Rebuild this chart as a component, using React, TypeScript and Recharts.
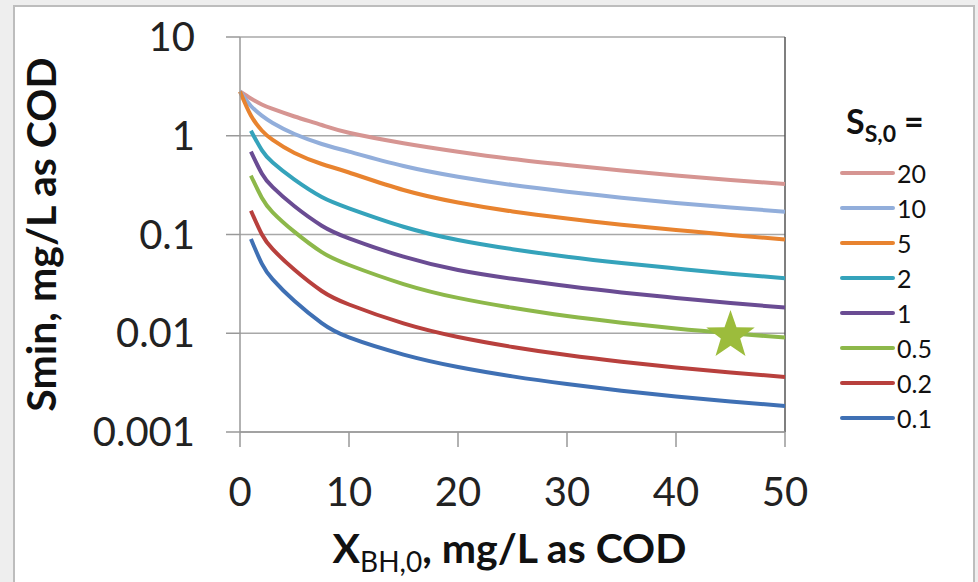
import React from 'react';
import {
  ComposedChart,
  Line,
  XAxis,
  YAxis,
  CartesianGrid,
  ReferenceLine,
  ReferenceDot,
} from 'recharts';

// X_BH,0 values (mg/L as COD)
const xValues = [0, 1, 2, 3, 5, 7.5, 10, 15, 20, 25, 30, 35, 40, 45, 50];

// Smin curves, one per S_S,0
const s20 = [2.806, 2.384, 2.073, 1.866, 1.566, 1.285, 1.074, 0.841, 0.69, 0.5815, 0.5057, 0.4446, 0.3958, 0.3563, 0.3246];
const s10 = [2.806, 2.001, 1.596, 1.346, 1.041, 0.825, 0.69, 0.494, 0.3848, 0.3171, 0.2713, 0.2359, 0.2084, 0.1877, 0.1702];
const s5 = [2.806, 1.604, 1.13, 0.906, 0.6689, 0.5175, 0.4244, 0.2822, 0.2109, 0.171, 0.1452, 0.1257, 0.1111, 0.0988, 0.089];
const s2 = [null, 1.125, 0.7157, 0.5359, 0.3596, 0.2397, 0.1842, 0.1199, 0.088, 0.071, 0.0596, 0.0515, 0.0453, 0.0401, 0.036];
const s1 = [null, 0.69, 0.4157, 0.3013, 0.193, 0.1228, 0.0915, 0.0596, 0.0437, 0.0356, 0.0301, 0.0259, 0.0228, 0.0202, 0.0182];
const s05 = [null, 0.3939, 0.2359, 0.1678, 0.1062, 0.0663, 0.0491, 0.0315, 0.0228, 0.0181, 0.01495, 0.0128, 0.01117, 0.00999, 0.00906];
const s02 = [null, 0.1742, 0.1007, 0.071, 0.0439, 0.0268, 0.01955, 0.01258, 0.00916, 0.00727, 0.00602, 0.00515, 0.0045, 0.004, 0.00361];
const s01 = [null, 0.09, 0.0507, 0.0351, 0.02116, 0.01264, 0.00906, 0.00608, 0.00455, 0.00366, 0.00306, 0.00262, 0.00229, 0.00204, 0.00183];

const seriesLabels = ['20', '10', '5', '2', '1', '0.5', '0.2', '0.1'];
const seriesValues = [s20, s10, s5, s2, s1, s05, s02, s01];
const seriesColors = ['#d69592', '#92aedb', '#e8832f', '#35a3bb', '#6a4c93', '#8db84a', '#b8403d', '#3f70b4'];

const xTicks = [0, 10, 20, 30, 40, 50];
const yTicks = [0.001, 0.01, 0.1, 1, 10];

// the star marker
const starPoint = { x: 45, y: 0.0095 };

const data = xValues.map((x, i) => {
  const row: Record<string, number | null> = { x };
  seriesLabels.forEach((label, k) => {
    row['s' + label] = seriesValues[k][i];
  });
  return row;
});

const FONT = 'Lato, "Open Sans", sans-serif';

function Star(props: any) {
  const { cx, cy } = props;
  const R = 25.5;
  const r = R * 0.4;
  const pts: string[] = [];
  for (let i = 0; i < 10; i++) {
    const rad = i % 2 === 0 ? R : r;
    const a = -Math.PI / 2 + (i * Math.PI) / 5;
    pts.push(`${cx + rad * Math.cos(a)},${cy + rad * Math.sin(a)}`);
  }
  return <polygon points={pts.join(' ')} fill="#9cbc3c" />;
}

function XTitle(props: any) {
  const { viewBox } = props;
  const cx = viewBox.x + viewBox.width / 2 - 3;
  return (
    <text x={cx} y={viewBox.y + 131} textAnchor="middle" fontFamily={FONT} fill="#111">
      <tspan fontSize={41} fontWeight={700}>X</tspan>
      <tspan fontSize={28} dy={9}>BH,0</tspan>
      <tspan fontSize={41} fontWeight={700} dy={-9}>, mg/L as COD</tspan>
    </text>
  );
}

function YTitle(props: any) {
  const { viewBox } = props;
  const x = 42 + 14;
  const y = viewBox.y + viewBox.height / 2;
  return (
    <text
      x={x}
      y={y}
      transform={`rotate(-90, ${x}, ${y})`}
      textAnchor="middle"
      fontFamily={FONT}
      fontSize={41}
      fontWeight={700}
      fill="#111"
    >
      Smin, mg/L as COD
    </text>
  );
}

function LegendBox() {
  return (
    <div style={{ position: 'absolute', left: 840, top: 100, fontFamily: FONT, color: '#111' }}>
      <div style={{ marginLeft: 6, height: 56, whiteSpace: 'nowrap' }}>
        <span style={{ fontSize: 34, fontWeight: 700 }}>S</span>
        <span style={{ fontSize: 23, fontWeight: 700, verticalAlign: -8 }}>S,0</span>
        <span style={{ fontSize: 34, fontWeight: 700, marginLeft: 8 }}>=</span>
      </div>
      {seriesLabels.map((label, k) => (
        <div key={label} style={{ display: 'flex', alignItems: 'center', height: 34.9 }}>
          <div style={{ width: 55, height: 4, background: seriesColors[k], borderRadius: 2 }} />
          <span style={{ fontSize: 25, marginLeft: 2 }}>{label}</span>
        </div>
      ))}
    </div>
  );
}

export default function App() {
  return (
    <div
      style={{
        position: 'absolute',
        left: 0,
        top: 0,
        width: 978,
        height: 582,
        overflow: 'hidden',
        background: '#eeeeee',
        fontFamily: FONT,
      }}
    >
      <div
        style={{
          position: 'absolute',
          left: 13,
          top: 5,
          width: 958,
          height: 620,
          background: '#ffffff',
          border: '2px solid #bdbdbd',
        }}
      />
      <div style={{ position: 'absolute', left: 0, top: 0 }}>
        <ComposedChart
          width={978}
          height={582}
          data={data}
          margin={{ top: 37, right: 193, bottom: 50, left: 0 }}
        >
          <CartesianGrid vertical={false} stroke="#a8a8a8" strokeWidth={1.5} />
          <XAxis
            dataKey="x"
            type="number"
            domain={[0, 50]}
            ticks={xTicks}
            height={100}
            tickSize={15}
            tickMargin={31}
            axisLine={{ stroke: '#999', strokeWidth: 1.5 }}
            tickLine={{ stroke: '#999', strokeWidth: 1.5 }}
            tick={{ fill: '#222', fontSize: 40, fontFamily: FONT }}
            label={<XTitle />}
          />
          <YAxis
            type="number"
            scale="log"
            domain={[0.001, 10]}
            ticks={yTicks}
            allowDataOverflow
            width={240}
            tickSize={14}
            tickMargin={31}
            tickFormatter={(v: number) => String(v)}
            axisLine={{ stroke: '#999', strokeWidth: 1.5 }}
            tickLine={{ stroke: '#999', strokeWidth: 1.5 }}
            tick={{ fill: '#222', fontSize: 40, fontFamily: FONT }}
            label={<YTitle />}
          />
          <ReferenceLine x={50} stroke="#555" strokeWidth={1.5} />
          {seriesLabels.map((label, k) => (
            <Line
              key={label}
              type="natural"
              dataKey={'s' + label}
              stroke={seriesColors[k]}
              strokeWidth={4}
              dot={false}
              isAnimationActive={false}
            />
          ))}
          <ReferenceDot x={starPoint.x} y={starPoint.y} r={25} shape={<Star />} />
        </ComposedChart>
      </div>
      <LegendBox />
    </div>
  );
}
